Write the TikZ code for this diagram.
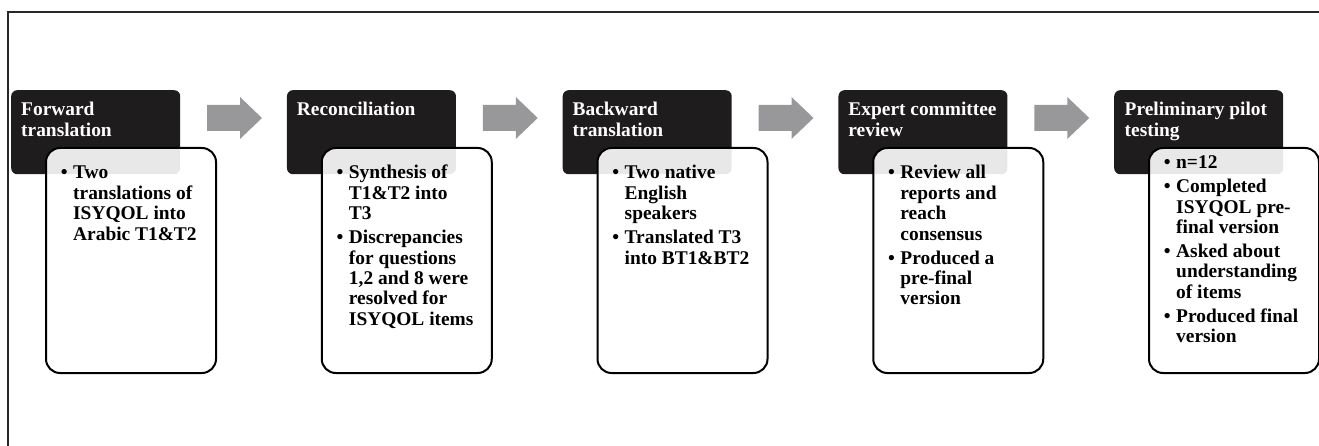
\documentclass[tikz,border=0pt]{standalone}
\usepackage{fontspec}
\setmainfont{Liberation Serif}
\definecolor{darkbox}{RGB}{30,28,29}
\definecolor{arrowgray}{RGB}{152,152,154}
\definecolor{framegray}{RGB}{40,40,40}
\newcommand{\bl}{\llap{\textbullet\hspace{5.5pt}}}
\newcommand{\myline}[1]{\hbox{#1}}
\newcommand{\pgap}{\vskip3.5pt}
\newcommand{\blockbox}[1]{\vtop{\baselineskip=20.4pt\lineskiplimit=-100pt\lineskip=0pt #1}}
\tikzset{
  headbox/.style={fill=darkbox, rounded corners=6pt, minimum width=169pt, minimum height=84pt, anchor=north west, inner sep=0pt},
  bodybox/.style={draw=black, line width=2pt, fill=white, fill opacity=0.9, rounded corners=14pt, minimum width=170pt, minimum height=225pt, anchor=north west, inner sep=0pt},
  headtext/.style={text=white, font=\bfseries\fontsize{19.4pt}{20.4pt}\selectfont, anchor=base west, inner sep=0pt},
  bodytext/.style={text=black, font=\bfseries\fontsize{19.4pt}{20.4pt}\selectfont, anchor=base west, inner sep=0pt},
  stagearrow/.style={fill=arrowgray},
  frameline/.style={draw=framegray, line width=1.5pt}
}
\begin{document}
\begin{tikzpicture}[x=1pt,y=-1pt]
\useasboundingbox (0,0) rectangle (1319,446);
% frame
\coordinate (fTL) at (8,12);
\coordinate (fTR) at (1319,12);
\coordinate (fBL) at (8,446);
\draw[frameline] (fBL) -- (fTL) -- (fTR);

% stage 1
\node[headbox] (h1) at (11,90) {};
\node[bodybox] (b1) at (45,147) {};
\node[headtext] (ht1) at (21,116) {\blockbox{\myline{Forward}\myline{translation}}};
\node[bodytext] (t1) at (73,179) {\blockbox{\myline{\bl Two}\myline{translations of}\myline{ISYQOL into}\myline{Arabic T1\&T2}}};

% stage 2
\node[headbox] (h2) at (286.75,90) {};
\node[bodybox] (b2) at (320.75,147) {};
\node[headtext] (ht2) at (296.75,116) {\blockbox{\myline{Reconciliation}}};
\node[bodytext] (t2) at (348.75,179) {\blockbox{\myline{\bl Synthesis of}\myline{T1\&T2 into}\myline{T3}\pgap
\myline{\bl Discrepancies}\myline{for questions}\myline{1,2 and 8 were}\myline{resolved for}\myline{ISYQOL items}}};

% stage 3
\node[headbox] (h3) at (562.5,90) {};
\node[bodybox] (b3) at (596.5,147) {};
\node[headtext] (ht3) at (572.5,116) {\blockbox{\myline{Backward}\myline{translation}}};
\node[bodytext] (t3) at (624.5,179) {\blockbox{\myline{\bl Two native}\myline{English}\myline{speakers}\pgap
\myline{\bl Translated T3}\myline{into BT1\&BT2}}};

% stage 4
\node[headbox] (h4) at (838.25,90) {};
\node[bodybox] (b4) at (872.25,147) {};
\node[headtext] (ht4) at (848.25,116) {\blockbox{\myline{Expert committee}\myline{review}}};
\node[bodytext] (t4) at (900.25,179) {\blockbox{\myline{\bl Review all}\myline{reports and}\myline{reach}\myline{consensus}\pgap
\myline{\bl Produced a}\myline{pre-final}\myline{version}}};

% stage 5
\node[headbox] (h5) at (1114,90) {};
\node[bodybox] (b5) at (1148,147) {};
\node[headtext] (ht5) at (1124.5,116) {\blockbox{\myline{Preliminary pilot}\myline{testing}}};
\node[bodytext] (t5) at (1176,169) {\blockbox{\myline{\bl n=12}\pgap
\myline{\bl Completed}\myline{ISYQOL pre-}\myline{final version}\pgap
\myline{\bl Asked about}\myline{understanding}\myline{of items}\pgap
\myline{\bl Produced final}\myline{version}}};

% arrows
\foreach \ax/\nm in {11/a1,286.75/a2,562.5/a3,838.25/a4}{
  \fill[stagearrow, shift={(\ax,0)}] (196,105) -- (229,105) -- (229,97) -- (251,118) -- (229,139) -- (229,131) -- (196,131) -- cycle;
}
\end{tikzpicture}
\end{document}
